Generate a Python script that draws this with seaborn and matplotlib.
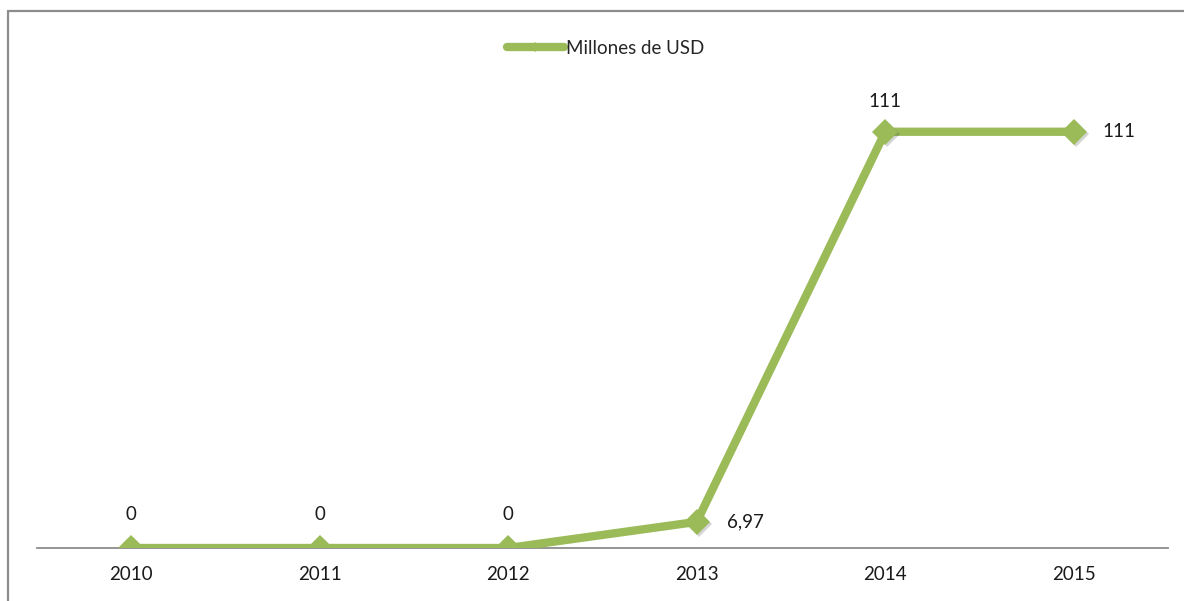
import matplotlib
matplotlib.use("Agg")
import matplotlib.pyplot as plt
from matplotlib.lines import Line2D
import matplotlib.patheffects as pe
import numpy as np
import pandas as pd
import seaborn as sns

years = ["2010", "2011", "2012", "2013", "2014", "2015"]
values = [0, 0, 0, 6.97, 111, 111]
value_labels = ["0", "0", "0", "6,97", "111", "111"]
series_name = "Millones de USD"

sns.set_theme(style="white")
plt.rcParams["font.family"] = ["Lato", "DejaVu Sans"]

green = "#9BBB59"
text_color = "#1a1a1a"
fs = 13.5
df = pd.DataFrame({"pos": np.arange(len(years)), "value": values})

fig = plt.figure(figsize=(11.84, 6.01), dpi=100)
ax = fig.add_axes([37 / 1184, 53 / 601, (1168 - 37) / 1184, (548 - 98) / 601])

# the line itself
sns.lineplot(data=df, x="pos", y="value", ax=ax, color=green, linewidth=6, legend=False)
# diamond markers with a soft drop shadow
shadow = [pe.SimplePatchShadow(offset=(1.5, -1.5), alpha=0.22, shadow_rgbFace="#444444"), pe.Normal()]
sns.lineplot(data=df, x="pos", y="value", ax=ax, color=green, linestyle="",
             marker="D", markersize=13, markeredgewidth=0, markerfacecolor=green,
             legend=False, path_effects=shadow)

ax.set_xlim(-0.5, len(years) - 0.5)
ax.set_ylim(0, 120)
ax.set_xticks(df["pos"], years)
ax.set_yticks([])
ax.set_xlabel("")
ax.set_ylabel("")
ax.tick_params(axis="x", length=0, pad=13, labelsize=fs, labelcolor=text_color)
for side in ["top", "right", "left"]:
    ax.spines[side].set_visible(False)
ax.spines["bottom"].set_color("#8c8c8c")
ax.spines["bottom"].set_linewidth(1.3)
ax.spines["bottom"].set_zorder(0)

# value labels: above for most points, right of the 2013 and 2015 points
offsets = [(0, 24), (0, 24), (0, 24), (22, 0), (0, 22), (21, 0)]
for x, y, txt, off in zip(df["pos"], values, value_labels, offsets):
    ha = "center" if off[0] == 0 else "left"
    ax.annotate(txt, (x, y), xytext=off, textcoords="offset points",
                ha=ha, va="center", fontsize=fs, color=text_color, clip_on=False)

handle = Line2D([], [], color=green, linewidth=6, marker="D", markersize=5,
                markeredgewidth=0, markerfacecolor=green)
fig.legend([handle], [series_name], loc="center", bbox_to_anchor=(606 / 1184, 1 - 48 / 601),
           frameon=False, fontsize=fs, handlelength=3.0, handletextpad=0.15)

# outer frame: top and left edges
fig.add_artist(Line2D([7.5 / 1184, 1], [1 - 11 / 601, 1 - 11 / 601], transform=fig.transFigure,
                      color="#8c8c8c", linewidth=1.6))
fig.add_artist(Line2D([7.5 / 1184, 7.5 / 1184], [0, 1 - 11 / 601], transform=fig.transFigure,
                      color="#8c8c8c", linewidth=1.6))

fig.savefig("out.png", dpi=100, facecolor="white")
